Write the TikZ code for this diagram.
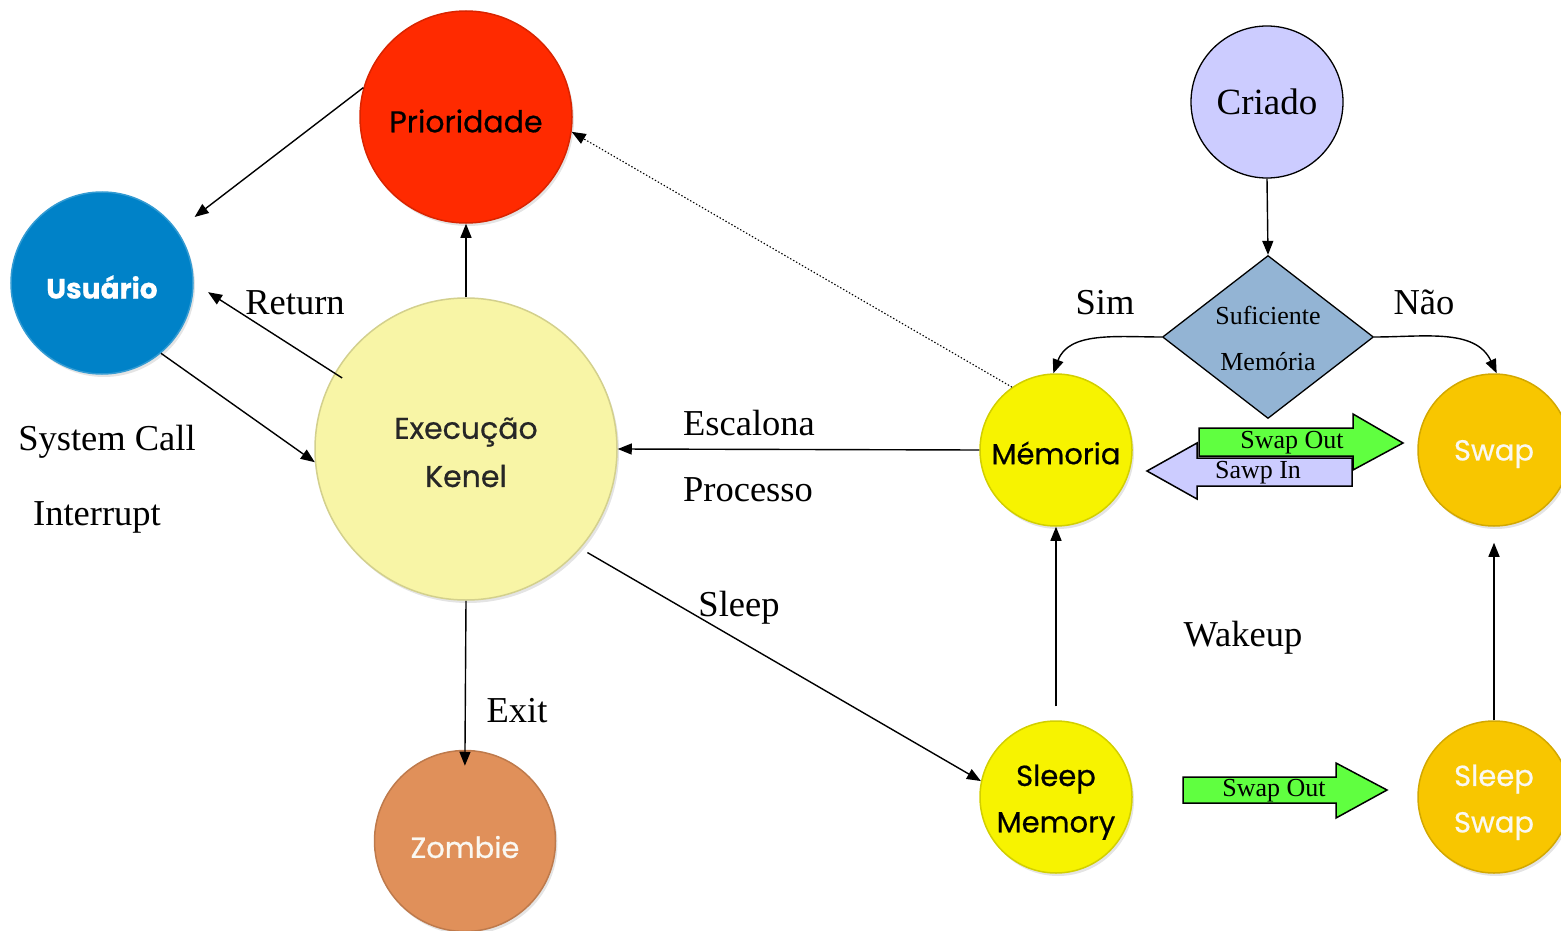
\documentclass[tikz,border=0pt]{standalone}
\usepackage{fontspec}
\setmainfont{Liberation Serif}
\newfontfamily\circfont{Poppins}[FakeBold=0.6]
\usetikzlibrary{arrows.meta,shapes.geometric}
\definecolor{cPri}{HTML}{FF2A00}
\definecolor{cUsr}{HTML}{0082C8}
\definecolor{cExe}{HTML}{F8F5A6}
\definecolor{cZom}{HTML}{E0905A}
\definecolor{cMem}{HTML}{F7F300}
\definecolor{cSwp}{HTML}{F8C600}
\definecolor{cCri}{HTML}{CCCCFF}
\definecolor{cDia}{HTML}{93B4D4}
\definecolor{cGrn}{HTML}{60FF40}
\definecolor{cLit}{HTML}{FAF8F2}
\begin{document}
\begin{tikzpicture}[x=1pt,y=-1pt,
  ball/.style={circle, inner sep=0pt, minimum size=#1, align=center,
    preaction={fill=black!30, opacity=0.35, transform canvas={shift={(2pt,-3pt)}}}},
  ctext/.style={font=\circfont\fontsize{#1}{#1}\selectfont},
  lbl/.style={font=\fontsize{36.5}{40}\selectfont, anchor=base, inner sep=0pt},
  small/.style={font=\fontsize{26}{28}\selectfont, inner sep=0pt},
  arr/.style={line width=1.4pt, -{Triangle[length=14pt,width=11pt]}},
  blk/.style={draw=black, line width=1.5pt, line join=miter}]
\useasboundingbox (0,0) rectangle (1561,931);

% circles
\node[ball=212pt, fill=cPri, draw=cPri!85!black, line width=1.5pt] (pri) at (466,117) {};
\node[ctext=30, text=black] (priT) at (466,121) {Prioridade};
\node[ball=182pt, fill=cUsr, draw=cUsr!80!white, line width=1.5pt] (usr) at (102,283) {};
\node[ctext=28, text=white, font=\circfont\bfseries\fontsize{28}{28}\selectfont] (usrT) at (102,287) {Usuário};
\node[ball=302pt, fill=cExe, draw=cExe!85!black, line width=1.5pt] (exe) at (466,449) {};
\node[ctext=30, text=black!85] (exeT1) at (466,432) {Execução};
\node[ctext=30, text=black!85] (exeT2) at (466,476) {Kenel};
\node[ball=181pt, fill=cZom, draw=cZom!85!black, line width=1.5pt] (zom) at (465,841) {};
\node[ctext=29, text=cLit] (zomT) at (465,847) {Zombie};
\node[ball=152pt, fill=cMem, draw=cMem!85!black, line width=1.5pt] (mem) at (1056,450) {};
\node[ctext=29, text=black] (memT) at (1056,453) {Mémoria};
\node[ball=152pt, fill=cMem, draw=cMem!85!black, line width=1.5pt] (slm) at (1056,797) {};
\node[ctext=29, text=black] (slmT1) at (1056,779) {Sleep};
\node[ctext=29, text=black] (slmT2) at (1056,826) {Memory};
\node[ball=152pt, fill=cSwp, draw=cSwp!85!black, line width=1.5pt] (swp) at (1494,450) {};
\node[ctext=29, text=cLit] (swpT) at (1494,454) {Swap};
\node[ball=152pt, fill=cSwp, draw=cSwp!85!black, line width=1.5pt] (sls) at (1494,797) {};
\node[ctext=29, text=cLit] (slsT1) at (1494,779) {Sleep};
\node[ctext=29, text=cLit] (slsT2) at (1494,826) {Swap};

\node[circle, draw=black, line width=1.3pt, fill=cCri, minimum size=152pt, inner sep=0pt,
  font=\fontsize{37}{40}\selectfont] (cri) at (1267,102) {Criado};
\node[diamond, draw=black, line width=1.3pt, fill=cDia, minimum width=211pt, minimum height=163pt,
  inner sep=0pt] (dia) at (1268,337) {};
\node[small] (diaT1) at (1268,315) {Suficiente};
\node[small] (diaT2) at (1268,362) {Memória};

% connectors
\draw[arr, shorten >=22pt] (pri.164) -- (usr.35);
\draw[arr, shorten >=17pt, shorten <=-9pt] (exe.150) -- (usr.0);
\draw[arr] (usr.-50) -- (exe.185);
\draw[arr] (exe.90) -- (pri.-90);
\draw[arr, dotted, line width=1.1pt] (mem.125) -- (pri.-8);
\draw[arr] (mem.180) -- (exe.0);
\draw[arr, shorten <=8pt] (exe.-41.5) -- (slm.168);
\draw[arr, shorten >=-16pt] (exe.-90) -- (zom.90);
\draw[arr, shorten <=14pt] (slm.90) -- (mem.-90);
\draw[arr, shorten >=16pt] (sls.90) -- (swp.-90);
\draw[arr] (cri.south) -- (dia.north);
\draw[arr] (dia.west) to[out=180, in=70] (mem.92);
\draw[arr] (dia.east) to[out=0, in=115] (swp.88);

% labels
\node[lbl] (lReturn) at (295,314) {Return};
\node[lbl] (lSys) at (107,450) {System Call};
\node[lbl] (lInt) at (97,525) {Interrupt};
\node[lbl] (lEsc) at (749,435) {Escalona};
\node[lbl] (lPro) at (748,501) {Processo};
\node[lbl] (lSleep) at (739,616) {Sleep};
\node[lbl] (lExit) at (517,722) {Exit};
\node[lbl] (lSim) at (1105,314) {Sim};
\node[lbl] (lNao) at (1424,314) {Não};
\node[lbl] (lWake) at (1243,646) {Wakeup};

% block arrows
\draw[blk, fill=cGrn] (1199,428) -- (1353,428) -- (1353,414) -- (1403,443) -- (1353,470) -- (1353,456) -- (1199,456) -- cycle;
\node[small] (so1) at (1292,443) {Swap Out};
\draw[blk, fill=cCri] (1352,458) -- (1197,458) -- (1197,443) -- (1147,471) -- (1197,499) -- (1197,486) -- (1352,486) -- cycle;
\node[small] (si1) at (1258,473) {Sawp In};
\draw[blk, fill=cGrn] (1183,777) -- (1336,777) -- (1336,763) -- (1387,790) -- (1336,818) -- (1336,803) -- (1183,803) -- cycle;
\node[small] (so2) at (1274,791) {Swap Out};
\end{tikzpicture}
\end{document}
